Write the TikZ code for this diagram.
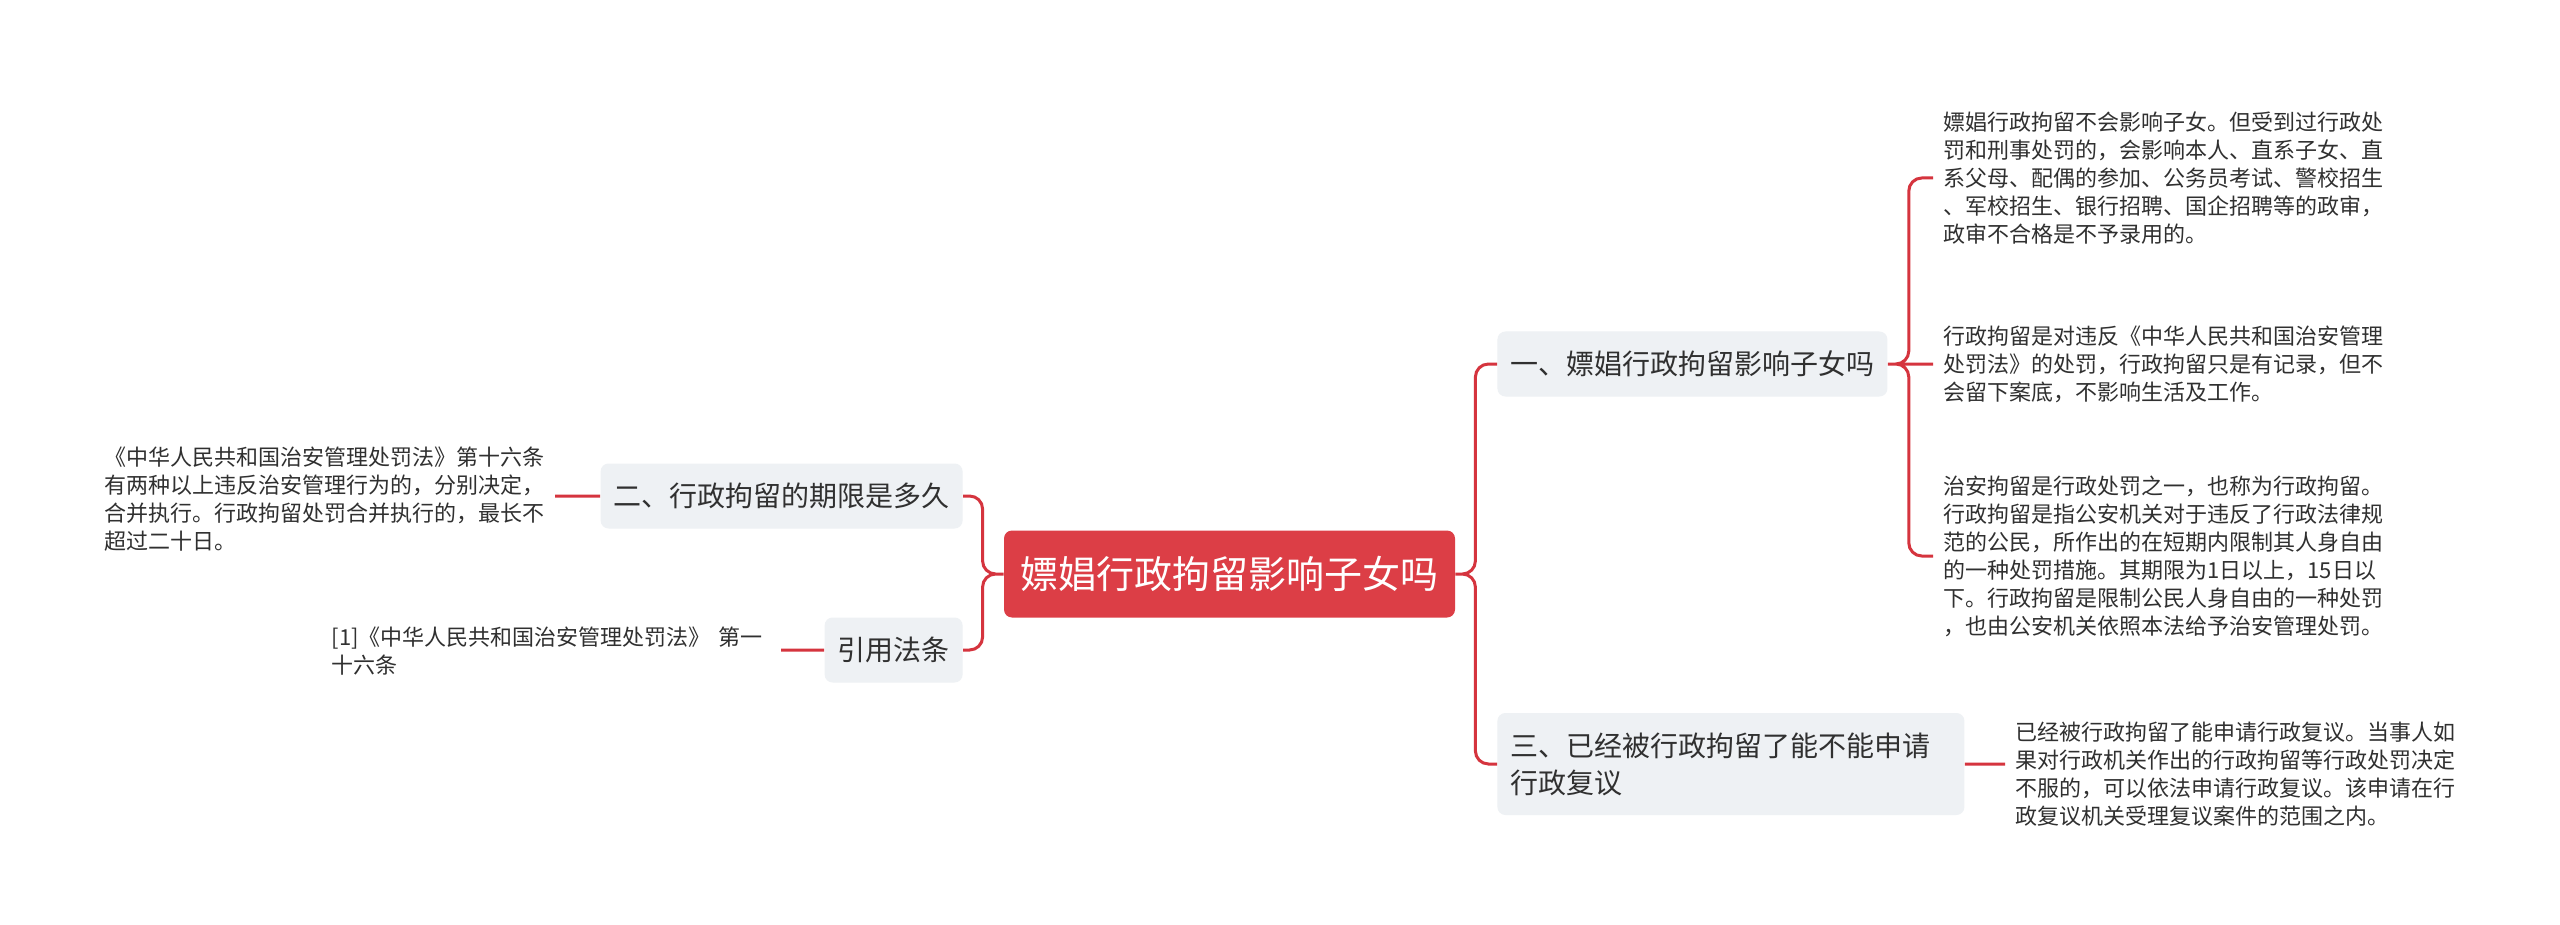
\documentclass[tikz,border=0pt]{standalone}
\usepackage{fontspec}
\setmainfont{Noto Sans CJK SC}
\usetikzlibrary{positioning}
\definecolor{rootred}{HTML}{DC3E46}
\definecolor{linkred}{HTML}{D5343E}
\definecolor{boxgrey}{HTML}{EEF1F4}
\definecolor{inkgrey}{HTML}{303030}

\begin{document}
\begin{tikzpicture}[x=0.5pt,y=-0.5pt,
    central/.style={fill=rootred,text=white,rounded corners=4pt,minimum width=225.5pt,minimum height=43.5pt,inner sep=0pt,font=\fontsize{19pt}{23pt}\selectfont},
    branch/.style={fill=boxgrey,text=inkgrey,rounded corners=4pt,minimum height=32.5pt,inner xsep=6.5pt,align=left,font=\fontsize{14pt}{18.5pt}\selectfont},
    leaf/.style={text=inkgrey,inner xsep=5pt,inner ysep=0pt,align=left,font=\fontsize{11pt}{14pt}\selectfont},
    link/.style={draw=linkred,line width=1.5pt,rounded corners=6.5pt}]

    \useasboundingbox[fill=white] (0,0) rectangle (2560,925);

    \node[central] (t0) at (1229.5,574) {嫖娼行政拘留影响子女吗};

    \node[branch,anchor=west] (q1) at (1497,364) {一、嫖娼行政拘留影响子女吗};
    \node[branch,anchor=west,minimum height=51pt,text width=220.5pt] (q3) at (1497,764) {三、已经被行政拘留了能不能申请\\行政复议};
    \node[branch,anchor=east] (q2) at (963,496) {二、行政拘留的期限是多久};
    \node[branch,anchor=east] (cite) at (963,650) {引用法条};

    \node[leaf,anchor=west] (a1) at (1933,178) {嫖娼行政拘留不会影响子女。但受到过行政处\\罚和刑事处罚的，会影响本人、直系子女、直\\系父母、配偶的参加、公务员考试、警校招生\\、军校招生、银行招聘、国企招聘等的政审，\\政审不合格是不予录用的。};
    \node[leaf,anchor=west] (a2) at (1933,364) {行政拘留是对违反《中华人民共和国治安管理\\处罚法》的处罚，行政拘留只是有记录，但不\\会留下案底，不影响生活及工作。};
    \node[leaf,anchor=west] (a3) at (1933,556) {治安拘留是行政处罚之一，也称为行政拘留。\\行政拘留是指公安机关对于违反了行政法律规\\范的公民，所作出的在短期内限制其人身自由\\的一种处罚措施。其期限为1日以上，15日以\\下。行政拘留是限制公民人身自由的一种处罚\\，也由公安机关依照本法给予治安管理处罚。};
    \node[leaf,anchor=west] (a4) at (2005,774) {已经被行政拘留了能申请行政复议。当事人如\\果对行政机关作出的行政拘留等行政处罚决定\\不服的，可以依法申请行政复议。该申请在行\\政复议机关受理复议案件的范围之内。};
    \node[leaf,anchor=east] (a5) at (555,499) {《中华人民共和国治安管理处罚法》第十六条\\有两种以上违反治安管理行为的，分别决定，\\合并执行。行政拘留处罚合并执行的，最长不\\超过二十日。};
    \node[leaf,anchor=east,text width=219.5pt] (a6) at (781,651) {[1]《中华人民共和国治安管理处罚法》 第一\\十六条};

    % root to branches
    \path[link] (t0.east) -- ++(20,0) |- (q1.west)
                (t0.east) -- ++(20,0) |- (q3.west)
                (t0.west) -- ++(-21,0) |- (q2.east)
                (t0.west) -- ++(-21,0) |- (cite.east);

    % branches to leaves
    \path[link] (q1.east) -- ++(21,0) |- (a1.west)
                (q1.east) -- (a2.west)
                (q1.east) -- ++(21,0) |- (a3.west)
                (q3.east) -- (q3.east -| a4.west)
                (q2.west) -- (q2.west -| a5.east)
                (cite.west) -- (cite.west -| a6.east);
\end{tikzpicture}
\end{document}
